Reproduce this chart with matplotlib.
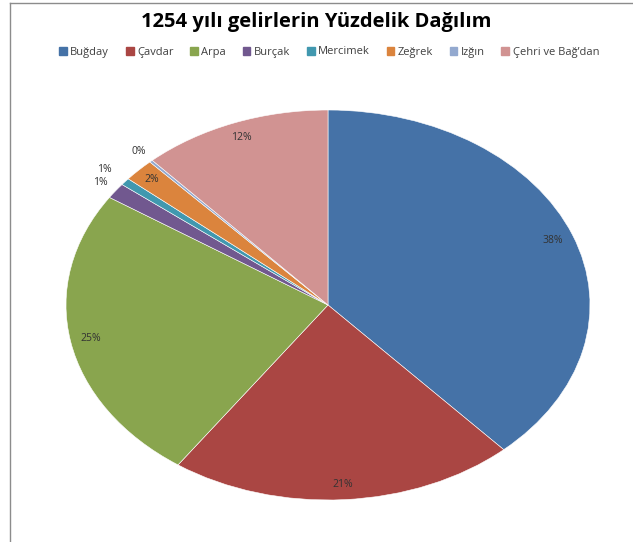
import matplotlib.pyplot as plt
from matplotlib.lines import Line2D
import numpy as np

plt.rcParams['font.family'] = ['Open Sans', 'DejaVu Sans']

# slice names and shares (%)
labels = ['Buğday', 'Çavdar', 'Arpa', 'Burçak', 'Mercimek', 'Zeğrek', 'Izğın', 'Çehri ve Bağ’dan']
shares = [38.3, 21.4, 24.6, 1.3, 0.6, 1.9, 0.2, 11.7]
colors = ['#4572A7', '#AA4643', '#89A54E', '#71588F', '#4198AF', '#DB843D', '#93A9CF', '#D19392']

W, H = 633, 542
fig = plt.figure(figsize=(W / 100, H / 100), dpi=100)

# pie area in pixels: x 66..590, y 110..500 (elliptical)
ax = fig.add_axes([66 / W, (H - 500) / H, 524 / W, 390 / H])
wedges, texts, autotexts = ax.pie(shares, colors=colors, startangle=90, counterclock=False,
                                  autopct='%.0f%%', pctdistance=0.92,
                                  textprops={'fontsize': 7.5, 'color': '#333333'},
                                  wedgeprops={'linewidth': 0.4, 'edgecolor': 'white'})
ax.set_aspect('auto')
ax.set_xlim(-1, 1)
ax.set_ylim(-1, 1)

# small slices get their labels pushed outward
dist = [0.92, 0.92, 0.92, 1.07, 1.10, 0.93, 1.07, 0.92]
for w, t, d in zip(wedges, autotexts, dist):
    a = np.deg2rad((w.theta1 + w.theta2) / 2)
    t.set_position((d * np.cos(a), d * np.sin(a)))

fig.suptitle('1254 yılı gelirlerin Yüzdelik Dağılım', x=0.5, y=1 - 22 / H, va='center',
             fontsize=14.5, fontweight='bold')

handles = [plt.Rectangle((0, 0), 1, 1, color=c) for c in colors]
fig.legend(handles, labels, loc='center', bbox_to_anchor=(0.52, 1 - 52 / H), ncol=8,
           frameon=False, fontsize=8, handlelength=0.7, handleheight=0.7,
           handletextpad=0.3, columnspacing=1.5, labelcolor='#404040')

# chart frame (top and left edges)
fig.add_artist(Line2D([10 / W, 1], [1 - 3 / H, 1 - 3 / H], color='#8c8c8c', lw=1))
fig.add_artist(Line2D([10 / W, 10 / W], [0, 1 - 3 / H], color='#8c8c8c', lw=1))

fig.savefig('out.png', dpi=100)
